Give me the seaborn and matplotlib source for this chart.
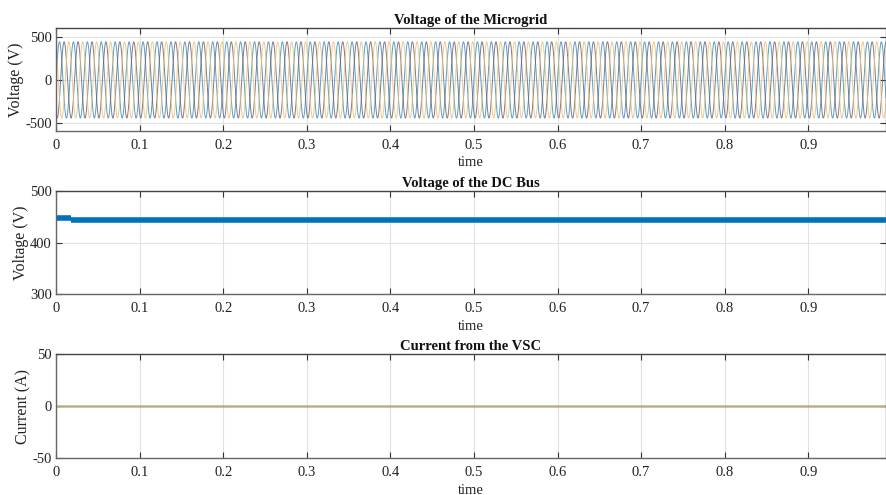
import numpy as np
import pandas as pd
import matplotlib
matplotlib.use("Agg")
import matplotlib.pyplot as plt
import seaborn as sns

# ---- data ----
t_end = 0.993
grid_freq_hz = 60.0
grid_amplitude_v = 440.0
phase_names = ["Va", "Vb", "Vc"]
phase_shift_deg = [0.0, -120.0, 120.0]
phase_colors = ["#3c8dc0", "#6e6270", "#e6c27a"]

dc_segment = [0, 0, 1, 1]
dc_time = [0.0, 0.018, 0.018, t_end]
dc_voltage = [447.5, 447.5, 444.0, 444.0]

current_time = [0.0, t_end]
current_values = {"Ia": [0.0, 0.0], "Ib": [0.0, 0.0], "Ic": [0.0, 0.0]}
current_colors = ["#6e6270", "#3c8dc0", "#c9ad5c"]

xticks = [0, 0.1, 0.2, 0.3, 0.4, 0.5, 0.6, 0.7, 0.8, 0.9]
xticklabels = ["0", "0.1", "0.2", "0.3", "0.4", "0.5", "0.6", "0.7", "0.8", "0.9"]

# ---- build tables ----
t = np.linspace(0, t_end, 24000)
rows = []
for name, sh in zip(phase_names, phase_shift_deg):
    rows.append(pd.DataFrame({"time": t,
                              "v": grid_amplitude_v * np.sin(2 * np.pi * grid_freq_hz * t + np.deg2rad(sh)),
                              "phase": name}))
df_v = pd.concat(rows, ignore_index=True)
df_dc = pd.DataFrame({"time": dc_time, "v": dc_voltage, "seg": dc_segment})
df_i = pd.concat([pd.DataFrame({"time": current_time, "i": v, "phase": k})
                  for k, v in current_values.items()], ignore_index=True)

sns.set_theme(style="white")
plt.rcParams["font.family"] = ["Liberation Serif", "DejaVu Serif"]
plt.rcParams["axes.edgecolor"] = "#555555"

fig = plt.figure(figsize=(8.86, 4.95), dpi=100)
left = 56 / 886
width = 1.0 - left
ax1 = fig.add_axes([left, (495 - 131) / 495, width, 103 / 495])
ax2 = fig.add_axes([left, (495 - 294) / 495, width, 103 / 495])
ax3 = fig.add_axes([left, (495 - 458) / 495, width, 104 / 495])

sns.lineplot(data=df_v, x="time", y="v", hue="phase", palette=phase_colors,
             estimator=None, linewidth=0.7, alpha=0.85, legend=False, ax=ax1)
sns.lineplot(data=df_dc, x="time", y="v", units="seg", color="#0072BD", estimator=None,
             sort=False, linewidth=4.0, solid_capstyle="butt", legend=False, ax=ax2)
sns.lineplot(data=df_i, x="time", y="i", hue="phase", palette=current_colors,
             estimator=None, linewidth=1.0, legend=False, ax=ax3)

specs = [
    (ax1, "Voltage of the Microgrid", "Voltage (V)", (-590, 600), [-500, 0, 500], ["-500", "0", "500"]),
    (ax2, "Voltage of the DC Bus", "Voltage (V)", (300, 500), [300, 400, 500], ["300", "400", "500"]),
    (ax3, "Current from the VSC", "Current (A)", (-50, 50), [-50, 0, 50], ["-50", "0", "50"]),
]
for ax, title, ylab, ylim, yt, ytl in specs:
    ax.set_xlim(0, t_end)
    ax.set_ylim(*ylim)
    ax.set_xticks(xticks)
    ax.set_xticklabels(xticklabels, fontsize=10.5, color="#222222")
    ax.set_yticks(yt)
    ax.set_yticklabels(ytl, fontsize=10.5, color="#222222")
    ax.set_title(title, fontsize=10.5, fontweight="bold", pad=3, color="#111111")
    ax.set_xlabel("time", fontsize=10.5, labelpad=3, color="#222222")
    ax.set_ylabel(ylab, fontsize=11.5, labelpad=1, color="#222222")
    ax.grid(True, color="#e2e2e2", linewidth=0.8)
    ax.set_axisbelow(True)
    ax.tick_params(direction="in", length=4, width=0.8, top=True, right=True,
                   bottom=True, left=True, color="#333333")
    ax.tick_params(axis="x", pad=6)
    ax.tick_params(axis="y", pad=3)
    for s in ax.spines.values():
        s.set_linewidth(1.0)
        s.set_color("#666666")
    ax.spines["top"].set_color("#444444")

fig.savefig("out.png", dpi=100)
